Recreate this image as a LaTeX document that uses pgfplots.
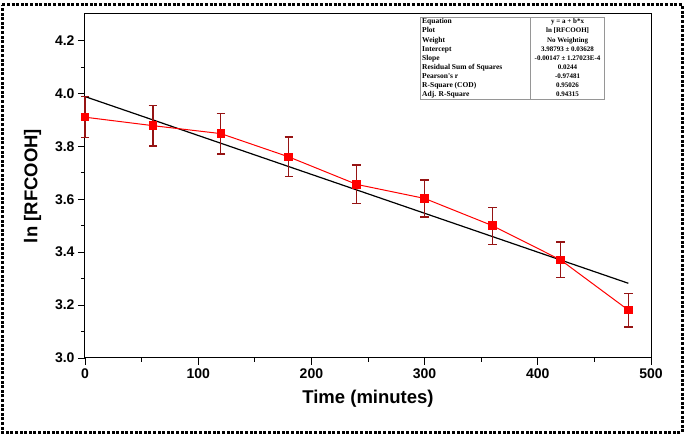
\documentclass[border=0pt]{standalone}
\usepackage{pgfplots}
\pgfplotsset{compat=1.18}
\usepackage{fontspec}
\usepackage{array}
\usepackage{colortbl}
\setmainfont{Liberation Sans}
\newfontfamily\tabfont{Liberation Serif}
\definecolor{errred}{RGB}{150,20,20}
\definecolor{tabgray}{RGB}{150,150,150}
\begin{document}
\begin{tikzpicture}[x=1pt,y=1pt]
\path[use as bounding box] (-85,-77) rectangle (600,358);
\begin{axis}[
  at={(0,0)}, anchor=south west,
  scale only axis, width=566pt, height=344pt,
  xmin=0, xmax=500, ymin=3.0, ymax=4.3,
  xtick={0,100,200,300,400,500},
  ytick={3.0,3.2,3.4,3.6,3.8,4.0,4.2},
  minor x tick num=1, minor y tick num=1,
  tick align=outside, tick pos=left,
  major tick length=7pt, minor tick length=4pt,
  every tick/.style={black, line width=0.8pt},
  axis line style={line width=1pt},
  /pgf/number format/assume math mode=true,
  ticklabel style={font=\fontsize{14}{16}\selectfont\bfseries},
  yticklabel style={/pgf/number format/.cd, fixed, fixed zerofill, precision=1},
  xticklabel style={/pgf/number format/.cd, fixed, precision=0},
  xlabel={Time (minutes)},
  ylabel={ln [RFCOOH]},
  xlabel style={yshift=-5pt},
  ylabel style={yshift=7pt},
  label style={font=\fontsize{18.5}{20}\selectfont\bfseries},
  clip=false,
]
\addplot[black, line width=1.2pt, no marks] coordinates {(0,3.98793) (480,3.28233)};
\addplot[red, line width=1pt, mark=square*, mark size=3.8pt, mark options={fill=red, draw=red},
  error bars/.cd, y dir=both, y explicit,
  error bar style={color=errred, line width=1.3pt},
  error mark options={rotate=90, mark size=4.2pt, line width=1.3pt, errred}]
  table[x=t, y=y, y error=e] {
t y e
0 3.910 0.077
60 3.878 0.077
120 3.848 0.077
180 3.760 0.075
240 3.656 0.073
300 3.603 0.070
360 3.500 0.070
420 3.371 0.067
480 3.181 0.064
};
\node[anchor=north east, inner sep=0pt, draw=tabgray, line width=0.8pt] at (rel axis cs:0.9187,0.991) {%
\tabfont\bfseries\fontsize{7.5}{9.1}\selectfont
\setlength\tabcolsep{2pt}\arrayrulecolor{tabgray}%
\begin{tabular}{p{106pt}|>{\centering\arraybackslash\fontsize{7}{9.1}\selectfont}p{70pt}}
Equation & y = a + b*x\\
Plot & ln [RFCOOH]\\
Weight & No Weighting\\
Intercept & 3.98793 ± 0.03628\\
Slope & -0.00147 ± 1.27023E-4\\
Residual Sum of Squares & 0.0244\\
Pearson's r & -0.97481\\
R-Square (COD) & 0.95026\\
Adj. R-Square & 0.94315
\end{tabular}};
\end{axis}
\draw[line width=3pt, dash pattern=on 3pt off 1.6pt] (-82.5,353) -- (597,353) -- (597,-74.5) -- (-82.5,-74.5) -- cycle;
\end{tikzpicture}
\end{document}
